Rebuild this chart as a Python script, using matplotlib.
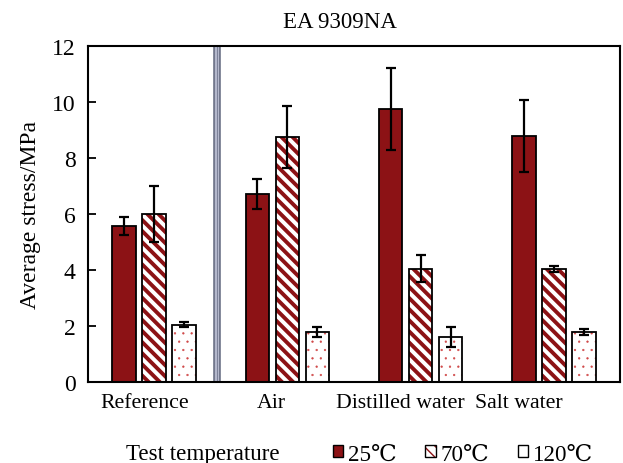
import matplotlib.pyplot as plt
from matplotlib.patches import Patch

plt.rcParams['font.family'] = ['Liberation Serif', 'DejaVu Serif']
plt.rcParams['font.size'] = 16

groups = ['Reference', 'Air', 'Distilled water', 'Salt water']
temps = ['25℃', '70℃', '120℃']
stress_25 = [5.58, 6.72, 9.75, 8.78]
stress_70 = [6.0, 8.75, 4.05, 4.03]
stress_120 = [2.05, 1.8, 1.62, 1.78]
err_25 = [0.32, 0.53, 1.45, 1.28]
err_70 = [1.0, 1.12, 0.48, 0.1]
err_120 = [0.08, 0.18, 0.36, 0.1]

xpos = [0, 1, 2, 3]
label_pos = [-0.068, 0.878, 1.845, 2.738]
w = 0.176
off = 0.225
red = '#8c1215'

fig = plt.figure(figsize=(6.23, 4.64), dpi=100)
ax = fig.add_axes([88/623, 1-383/464, 532/623, 336/464])

def bars(x, h, err, hatch, face, hcol, hlw):
    with plt.rc_context({'hatch.linewidth': hlw, 'hatch.color': hcol}):
        b = ax.bar(x, h, w, color=face, edgecolor=hcol, hatch=hatch, linewidth=0, zorder=2)
        for p in b:
            if hasattr(p, 'set_hatch_linewidth'):
                p.set_hatch_linewidth(hlw)
    ax.bar(x, h, w, fill=False, edgecolor='black', linewidth=1.3, zorder=3)
    ax.errorbar(x, h, yerr=err, fmt='none', ecolor='black', elinewidth=1.6,
                capsize=3.3, capthick=1.6, zorder=4)

bars([x - off for x in xpos], stress_25, err_25, None, red, red, 1)
bars(xpos, stress_70, err_70, '\\\\\\', 'white', red, 2.8)
bars([x + off for x in xpos], stress_120, err_120, '..', 'white', '#d04848', 0.4)

# separator between reference and conditioned samples
ax.axvline(0.473, color='#6e7388', lw=5.5, zorder=1)
ax.axvline(0.473, color='#b4b8cc', lw=3, zorder=1)
ax.axvline(0.473, color='#7c8198', lw=0.7, zorder=1)

ax.set_xlim(-0.495, 3.496)
ax.set_ylim(0, 12)
ax.set_yticks([0, 2, 4, 6, 8, 10, 12])
ax.set_xticks(label_pos)
ax.set_xticklabels(groups, fontsize=15.7)
ax.tick_params(axis='x', length=0, pad=8)
ax.tick_params(axis='y', direction='in', length=6, width=1.3, pad=9, labelsize=17)
for s in ax.spines.values():
    s.set_linewidth(1.5)
ax.set_ylabel('Average stress/MPa', labelpad=8, fontsize=17)

fig.text(340/623, 1-22/464, 'EA 9309NA', ha='center', va='center', fontsize=16.5)

fig.text(126/623, 1-455/464, 'Test temperature', ha='left', va='center', fontsize=16.6)
handles = [Patch(facecolor=red, edgecolor='black', linewidth=1),
           (Patch(facecolor='white', edgecolor=red, hatch='\\\\\\', linewidth=0),
            Patch(fill=False, edgecolor='black', linewidth=1)),
           Patch(facecolor='white', edgecolor='black', linewidth=1)]
fig.legend(handles, temps, loc='center left', bbox_to_anchor=(312/623, 1-455/464),
           ncol=3, frameon=False, handlelength=0.45, handleheight=0.45,
           handletextpad=0.2, columnspacing=1.25, fontsize=16.6)

fig.savefig('out.png', dpi=100)
